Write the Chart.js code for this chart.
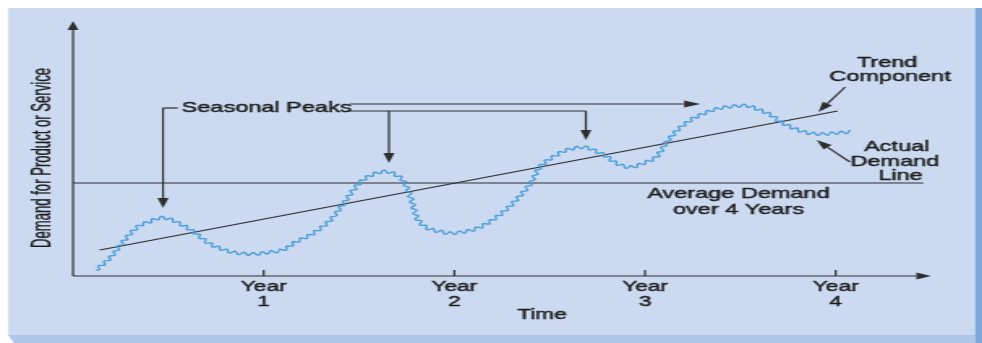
<!DOCTYPE html>
<html>
<head>
<meta charset="utf-8">
<script src="https://cdn.jsdelivr.net/npm/chart.js@4.4.0/dist/chart.umd.min.js"></script>
<style>
  html, body { margin: 0; padding: 0; background: #fff; overflow: hidden; }
  /* the figure is laid out narrow and stretched sideways, like the printed original */
  #wrap { width: 606px; height: 343px; transform: scaleX(1.62046); transform-origin: 0 0; }
  canvas { display: block; }
</style>
</head>
<body>
<div id="wrap"><canvas id="demandChart" width="606" height="343"></canvas></div>
<script>
const SX = 982 / 606;

// actual demand (time in years, demand in axis units 0-100)
const demandYears = [0.12, 0.20, 0.27, 0.34, 0.40, 0.46, 0.52, 0.59, 0.64, 0.71,
  0.78, 0.85, 0.94, 1.01, 1.10, 1.17, 1.26, 1.35, 1.42, 1.47,
  1.52, 1.59, 1.65, 1.71, 1.74, 1.77, 1.79, 1.81, 1.86, 1.93,
  1.98, 2.05, 2.12, 2.20, 2.28, 2.34, 2.40, 2.45, 2.52, 2.59,
  2.68, 2.75, 2.80, 2.85, 2.92, 2.99, 3.06, 3.11, 3.17, 3.24,
  3.31, 3.39, 3.48, 3.54, 3.60, 3.66, 3.71, 3.78, 3.85, 3.92,
  3.99, 4.08];
const demandValues = [2.4, 7.7, 14.4, 19.7, 21.7, 23.3, 22.4, 19.7, 17.2, 13.2,
  10.8, 9.3, 8.8, 9.3, 10.4, 13.7, 17.1, 22.4, 29.1, 34.4,
  38.4, 41.1, 41.7, 39.7, 37.1, 31.7, 26.4, 22.4, 19.1, 17.7,
  17.1, 17.7, 19.1, 22.4, 27.1, 31.7, 37.1, 43.7, 47.7, 50.4,
  51.5, 49.7, 47.7, 45.1, 43.5, 45.1, 47.7, 53.1, 58.4, 62.4,
  65.1, 67.1, 68.0, 68.0, 66.4, 64.4, 61.7, 59.1, 57.3, 56.8,
  57.1, 57.7];

const trendYears = [0.14, 4.01];
const trendValues = [10.4, 66.0];

const averageYears = [0, 4.46];
const averageValues = [37.2, 37.2];

const yearTicks = [1, 2, 3, 4];
const yearLabels = ['1', '2', '3', '4'];

const pairs = (xs, ys) => xs.map((x, i) => ({ x: x, y: ys[i] }));

const TEXT = '#1e1e1e';
const INK = '#2e2e2e';
const WAVE = '#4b9cd9';
const RIPPLE_LEN = 5.8;
const RIPPLE_AMP = 1.5;

// panel, bevel strips
const backdrop = {
  id: 'backdrop',
  beforeDraw(chart) {
    const c = chart.ctx;
    c.save();
    c.fillStyle = '#ffffff';
    c.fillRect(0, 0, chart.width, chart.height);
    c.fillStyle = '#cbdaf0';
    c.fillRect(8 / SX, 8, (975 - 8) / SX, 327);
    c.fillStyle = '#afc7e8';
    c.beginPath();
    c.moveTo(8 / SX, 335);
    c.lineTo(975 / SX, 335);
    c.lineTo(975 / SX, 343);
    c.lineTo(14 / SX, 343);
    c.closePath();
    c.fill();
    c.fillStyle = '#80a7da';
    c.fillRect(975 / SX, 8, chart.width - 975 / SX, 335);
    c.restore();
  }
};

function arrowHead(c, x1, y1, x2, y2, L, W) {
  const dx = x2 - x1, dy = y2 - y1, d = Math.hypot(dx, dy);
  const ux = dx / d, uy = dy / d;
  const bx = x2 - ux * L, by = y2 - uy * L;
  c.beginPath();
  c.moveTo(x2, y2);
  c.lineTo(bx - uy * W, by + ux * W);
  c.lineTo(bx + uy * W, by - ux * W);
  c.closePath();
  c.fill();
  return { x: bx, y: by };
}

function arrow(c, x1, y1, x2, y2, L = 10, W = 3.4) {
  const base = arrowHead(c, x1, y1, x2, y2, L, W);
  c.beginPath();
  c.moveTo(x1, y1);
  c.lineTo(base.x, base.y);
  c.stroke();
}

// smooth curve through the points with a fine ripple running along it
function wavyLine(c, pts) {
  const dense = [];
  const n = pts.length;
  for (let i = 0; i < n - 1; i++) {
    const p0 = pts[Math.max(i - 1, 0)], p1 = pts[i], p2 = pts[i + 1], p3 = pts[Math.min(i + 2, n - 1)];
    const steps = 16;
    for (let s = 0; s < steps; s++) {
      const t = s / steps, t2 = t * t, t3 = t2 * t;
      const cr = (a, b, e, f) => 0.5 * (2 * b + (-a + e) * t + (2 * a - 5 * b + 4 * e - f) * t2 + (-a + 3 * b - 3 * e + f) * t3);
      dense.push({ x: cr(p0.x, p1.x, p2.x, p3.x), y: cr(p0.y, p1.y, p2.y, p3.y) });
    }
  }
  dense.push(pts[n - 1]);
  let len = 0;
  c.beginPath();
  for (let i = 0; i < dense.length; i++) {
    const a = dense[Math.max(i - 1, 0)], b = dense[Math.min(i + 1, dense.length - 1)];
    if (i > 0) len += Math.hypot(dense[i].x - dense[i - 1].x, dense[i].y - dense[i - 1].y);
    const dx = b.x - a.x, dy = b.y - a.y, d = Math.hypot(dx, dy) || 1;
    const off = RIPPLE_AMP * Math.sin(2 * Math.PI * len / RIPPLE_LEN);
    const x = dense[i].x - dy / d * off, y = dense[i].y + dx / d * off;
    if (i === 0) c.moveTo(x, y); else c.lineTo(x, y);
  }
  c.stroke();
}

// slightly heavier type than a plain fill
function text(c, s, x, y) {
  c.fillText(s, x, y);
  c.strokeText(s, x, y);
}

const decorations = {
  id: 'decorations',
  afterDatasetsDraw(chart) {
    const c = chart.ctx;
    const xs = chart.scales.x, ys = chart.scales.y;
    const area = chart.chartArea;
    const px = v => xs.getPixelForValue(v);
    const py = v => ys.getPixelForValue(v);

    c.save();

    // actual demand
    const meta = chart.getDatasetMeta(0);
    c.strokeStyle = WAVE;
    c.lineWidth = 1.3;
    c.lineJoin = 'round';
    wavyLine(c, meta.data.map(p => ({ x: p.x, y: p.y })));

    // axes with arrow heads
    c.strokeStyle = INK;
    c.fillStyle = INK;
    c.lineWidth = 1.2;
    arrow(c, area.left, area.bottom, area.left, 21, 9, 3.4);
    arrow(c, area.left, area.bottom, area.right, area.bottom, 9, 3.4);
    yearTicks.forEach(v => {
      c.beginPath();
      c.moveTo(px(v), area.bottom);
      c.lineTo(px(v), area.bottom - 6);
      c.stroke();
    });

    // seasonal peak call-outs
    const calloutY = 67.2;
    c.beginPath();
    c.moveTo(px(0.55), py(calloutY));
    c.lineTo(px(0.472), py(calloutY));
    c.stroke();
    arrow(c, px(0.472), py(calloutY), px(0.472), py(27.2));
    c.beginPath();
    c.moveTo(px(1.45), py(66.0));
    c.lineTo(px(2.69), py(66.0));
    c.stroke();
    arrow(c, px(1.657), py(66.0), px(1.657), py(45.2));
    arrow(c, px(2.69), py(66.0), px(2.69), py(54.4));
    arrow(c, px(1.45), py(68.8), px(3.29), py(68.8));

    // trend and actual-demand pointers
    arrow(c, px(4.05), py(75.6), px(3.91), py(65.6));
    arrow(c, px(4.075), py(45.6), px(3.90), py(54.4));

    // texts
    c.fillStyle = TEXT;
    c.strokeStyle = TEXT;
    c.lineWidth = 0.45;
    c.textBaseline = 'middle';
    c.font = '14px "Liberation Sans", Arial, sans-serif';
    c.textAlign = 'center';
    yearTicks.forEach((v, i) => {
      text(c, 'Year', px(v), area.bottom + 11);
      text(c, yearLabels[i], px(v), area.bottom + 26);
    });
    text(c, 'Time', px(2.46), area.bottom + 39);

    c.font = '14.5px "Liberation Sans", Arial, sans-serif';
    c.textAlign = 'left';
    text(c, 'Seasonal Peaks', px(0.57), py(calloutY));
    c.textAlign = 'center';
    text(c, 'Trend', px(4.27), py(85.2));
    text(c, 'Component', px(4.285), py(79.6));
    text(c, 'Actual', px(4.32), py(51.6));
    text(c, 'Demand', px(4.31), py(45.6));
    text(c, 'Line', px(4.34), py(40.0));
    text(c, 'Average Demand', px(3.49), py(32.8));
    text(c, 'over 4 Years', px(3.49), py(26.4));

    // vertical axis title, condensed along its length
    const title = 'Demand for Product or Service';
    c.font = '17px "Liberation Sans", Arial, sans-serif';
    c.lineWidth = 0.3;
    const w = c.measureText(title).width;
    c.translate(area.left - 19, 158);
    c.rotate(-Math.PI / 2);
    c.scale(180 / w, 1);
    text(c, title, 0, 0);

    c.restore();
  }
};

const ctx = document.getElementById('demandChart').getContext('2d');

const demandChart = new Chart(ctx, {
  type: 'line',
  data: {
    datasets: [{
      label: 'Actual Demand',
      data: pairs(demandYears, demandValues),
      showLine: false,
      pointRadius: 0,
      borderColor: WAVE
    }, {
      label: 'Trend Component',
      data: pairs(trendYears, trendValues),
      borderColor: INK,
      borderWidth: 1.1,
      pointRadius: 0
    }, {
      label: 'Average Demand',
      data: pairs(averageYears, averageValues),
      borderColor: INK,
      borderWidth: 1.1,
      pointRadius: 0
    }]
  },
  options: {
    responsive: false,
    devicePixelRatio: 1,
    animation: false,
    layout: {
      padding: { left: 73 / SX, right: 606 - 931 / SX, top: 26, bottom: 67 }
    },
    plugins: {
      legend: { display: false },
      tooltip: { enabled: false }
    },
    scales: {
      x: { type: 'linear', min: 0, max: 4.5, display: false },
      y: { type: 'linear', min: 0, max: 100, display: false }
    }
  },
  plugins: [backdrop, decorations]
});
</script>
</body>
</html>
